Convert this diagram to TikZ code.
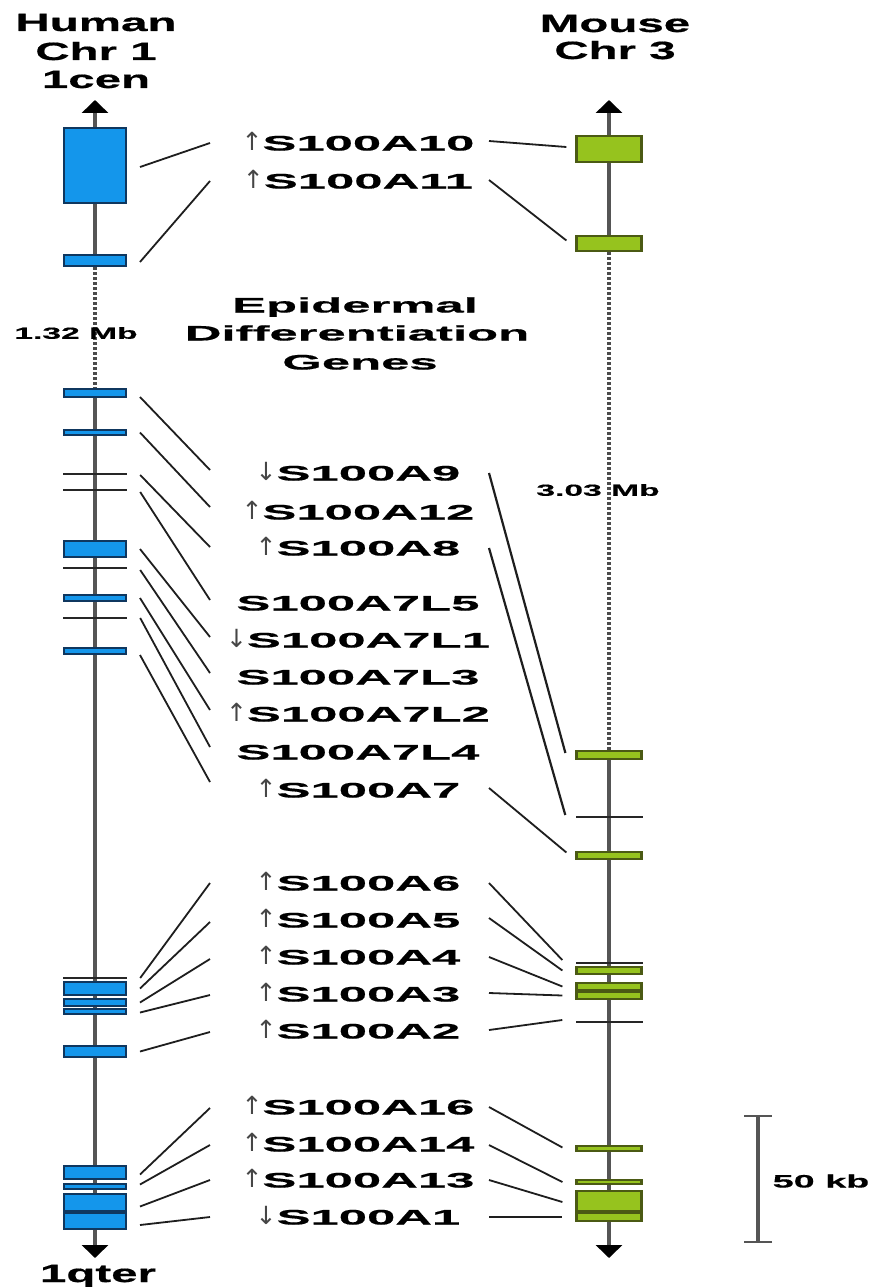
\documentclass[tikz,border=0pt]{standalone}
\usepackage{fontspec}
\setmainfont{Liberation Sans}
\newfontfamily\genefont[FakeStretch=2.42, BoldFeatures={FakeBold=0.6}]{Liberation Sans}
\newfontfamily\titlefont[FakeStretch=1.9, BoldFeatures={FakeBold=0.6}]{Liberation Sans}
\newfontfamily\smallfont[FakeStretch=2.1, BoldFeatures={FakeBold=0.5}]{Liberation Sans}
\newfontfamily\arrowfont{DejaVu Sans}
\usetikzlibrary{
  arrows.meta,
  calc,
  backgrounds
}
\definecolor{humanfill}{RGB}{20, 150, 235}
\definecolor{humanedge}{RGB}{15, 55, 95}
\definecolor{mousefill}{RGB}{150, 195, 30}
\definecolor{mouseedge}{RGB}{75, 90, 20}
\definecolor{chromcolor}{RGB}{85, 85, 85}
\definecolor{linkcolor}{RGB}{30, 30, 30}
\definecolor{regcolor}{RGB}{70, 70, 70}
\newcommand{\upreg}{{\arrowfont\mdseries\fontsize{25}{25}\selectfont\color{regcolor}↑}}
\newcommand{\downreg}{{\arrowfont\mdseries\fontsize{25}{25}\selectfont\color{regcolor}↓}}
\tikzset{
genelabel/.style={
  font=\genefont\bfseries\fontsize{21}{25}\selectfont,
  inner sep=0pt,
  text height=15pt,
  text depth=0pt
},
titlelabel/.style={
  font=\titlefont\bfseries\fontsize{25}{30}\selectfont,
  inner sep=0pt,
  text height=18pt,
  text depth=0pt
},
sizelabel/.style={
  font=\smallfont\bfseries\fontsize{16}{20}\selectfont,
  inner sep=0pt,
  text height=11.5pt,
  text depth=0pt
},
hbox/.style={
  draw=humanedge,
  fill=humanfill,
  line width=2pt,
  minimum width=62pt,
  inner sep=0pt
},
mbox/.style={
  draw=mouseedge,
  fill=mousefill,
  line width=2.2pt,
  minimum width=65pt,
  inner sep=0pt
},
htick/.style={
  fill=black!85,
  minimum width=64pt,
  minimum height=2.5pt,
  inner sep=0pt
},
mtick/.style={
  fill=black!85,
  minimum width=67pt,
  minimum height=2.5pt,
  inner sep=0pt
},
chrom/.style={
  draw=chromcolor,
  line width=4.5pt
},
chromend/.style={
  chrom,
  -{Triangle[width=26pt,length=13pt,color=black]}
},
chromdot/.style={
  draw=black!70,
  line width=4pt,
  dash pattern=on 2.5pt off 2.5pt
},
link/.style={
  draw=linkcolor,
  line width=1.8pt
},
scalebar/.style={
  draw=chromcolor,
  line width=3.5pt,
  {Bar[width=28pt,line width=2pt]}-{Bar[width=28pt,line width=2pt]}
}
}

\begin{document}
\begin{tikzpicture}[x=1pt, y=-1pt]
  \useasboundingbox (0,0) rectangle (876,1287);

  % Titles
  \node[titlelabel] (humanname) at (96,22) {Human};
  \node[titlelabel] (humanchr) at (96,51) {Chr 1};
  \node[titlelabel] (humancen) at (96,79) {1cen};
  \node[titlelabel] (mousename) at (615,23) {Mouse};
  \node[titlelabel] (mousechr) at (615,50) {Chr 3};
  \node[titlelabel] (humanqter) at (98,1273) {1qter};

  % Chromosome ends
  \coordinate (htop) at (95,100);
  \coordinate (hbot) at (95,1258);
  \coordinate (mtop) at (609,100);
  \coordinate (mbot) at (609,1258);

  % Human genes
  \node[hbox, minimum height=75] (hA10) at (95,165.5) {};
  \node[hbox, minimum height=11] (hA11) at (95,260.5) {};
  \node[hbox, minimum height=8] (hA9) at (95,393) {};
  \node[hbox, minimum height=5] (hA12) at (95,432.5) {};
  \node[htick] (hA8) at (95,474) {};
  \node[htick] (hA7L5) at (95,490) {};
  \node[hbox, minimum height=16] (hA7L1) at (95,549) {};
  \node[htick] (hA7L3) at (95,568) {};
  \node[hbox, minimum height=6] (hA7L2) at (95,598) {};
  \node[htick] (hA7L4) at (95,618) {};
  \node[hbox, minimum height=6] (hA7) at (95,651) {};
  \node[htick] (hA6) at (95,978) {};
  \node[hbox, minimum height=13] (hA5) at (95,988.5) {};
  \node[hbox, minimum height=7] (hA4) at (95,1002.5) {};
  \node[hbox, minimum height=5] (hA3) at (95,1011.5) {};
  \node[hbox, minimum height=11] (hA2) at (95,1051.5) {};
  \node[hbox, minimum height=13] (hA16) at (95,1172.5) {};
  \node[hbox, minimum height=5] (hA14) at (95,1186.5) {};
  \node[hbox, minimum height=17] (hA13) at (95,1202.5) {};
  \node[hbox, minimum height=16] (hA1) at (95,1221) {};

  % Mouse genes
  \node[mbox, minimum height=26] (mA10) at (609,149) {};
  \node[mbox, minimum height=15] (mA11) at (609,243.5) {};
  \node[mbox, minimum height=8] (mA9) at (609,755) {};
  \node[mtick] (mA8) at (609,817) {};
  \node[mbox, minimum height=7] (mA7) at (609,855.5) {};
  \node[mtick] (mA6) at (609,963) {};
  \node[mbox, minimum height=7] (mA5) at (609,970.5) {};
  \node[mbox, minimum height=7] (mA4) at (609,986.5) {};
  \node[mbox, minimum height=7] (mA3) at (609,995.5) {};
  \node[mtick] (mA2) at (609,1022) {};
  \node[mbox, minimum height=5] (mA16) at (609,1148.5) {};
  \node[mbox, minimum height=4] (mA14) at (609,1182) {};
  \node[mbox, minimum height=20] (mA13) at (609,1201) {};
  \node[mbox, minimum height=8] (mA1) at (609,1217) {};

  % Chromosome lines
  \begin{scope}[on background layer]
    \fill[white] (0,0) rectangle (876,1287);
    \draw[chromend] (hA11.center) -- (htop);
    \draw[chromdot] (hA11.south) -- (hA9.north);
    \draw[chromend] (hA9.center) -- (hbot);
    \draw[chromend] (mA11.center) -- (mtop);
    \draw[chromdot] (mA11.south) -- (mA9.north);
    \draw[chromend] (mA9.center) -- (mbot);
  \end{scope}

  % Gene names
  \node[genelabel] (lA10) at (358,143) {\upreg S100A10};
  \node[genelabel] (lA11) at (358,181) {\upreg S100A11};
  \node[genelabel] (lA9) at (358,473) {\downreg S100A9};
  \node[genelabel] (lA12) at (358,512) {\upreg S100A12};
  \node[genelabel] (lA8) at (358,548) {\upreg S100A8};
  \node[genelabel] (lA7L5) at (358,603) {S100A7L5};
  \node[genelabel] (lA7L1) at (358,640) {\downreg S100A7L1};
  \node[genelabel] (lA7L3) at (358,677) {S100A7L3};
  \node[genelabel] (lA7L2) at (358,714) {\upreg S100A7L2};
  \node[genelabel] (lA7L4) at (358,752) {S100A7L4};
  \node[genelabel] (lA7) at (358,790) {\upreg S100A7};
  \node[genelabel] (lA6) at (358,883) {\upreg S100A6};
  \node[genelabel] (lA5) at (358,920) {\upreg S100A5};
  \node[genelabel] (lA4) at (358,957) {\upreg S100A4};
  \node[genelabel] (lA3) at (358,994) {\upreg S100A3};
  \node[genelabel] (lA2) at (358,1031) {\upreg S100A2};
  \node[genelabel] (lA16) at (358,1107) {\upreg S100A16};
  \node[genelabel] (lA14) at (358,1144) {\upreg S100A14};
  \node[genelabel] (lA13) at (358,1180) {\upreg S100A13};
  \node[genelabel] (lA1) at (358,1217) {\downreg S100A1};

  % Gap labels
  \node[genelabel] (edgtop) at (355,305) {Epidermal};
  \node[genelabel] (edgmid) at (357,333) {Differentiation};
  \node[genelabel] (edgbot) at (360,362) {Genes};
  \node[sizelabel] (hgap) at (76,333) {1.32 Mb};
  \node[sizelabel] (mgap) at (598,490) {3.03 Mb};

  % Human side links
  \draw[link] ($(hA10.east)+(13,1.5)$) -- ($(lA10.center)+(-148,0)$);
  \draw[link] ($(hA11.east)+(13,1.5)$) -- ($(lA11.center)+(-148,0)$);
  \draw[link] ($(hA9.east)+(13,4)$) -- ($(lA9.center)+(-148,-3)$);
  \draw[link] ($(hA12.east)+(13,0)$) -- ($(lA12.center)+(-148,-5)$);
  \draw[link] ($(hA8.east)+(13,1)$) -- ($(lA8.center)+(-148,-1)$);
  \draw[link] ($(hA7L5.east)+(13,2)$) -- ($(lA7L5.center)+(-148,-3)$);
  \draw[link] ($(hA7L1.east)+(13,0)$) -- ($(lA7L1.center)+(-148,-3)$);
  \draw[link] ($(hA7L3.east)+(13,2)$) -- ($(lA7L3.center)+(-148,-4)$);
  \draw[link] ($(hA7L2.east)+(13,0)$) -- ($(lA7L2.center)+(-148,-4)$);
  \draw[link] ($(hA7L4.east)+(13,0)$) -- ($(lA7L4.center)+(-148,-5)$);
  \draw[link] ($(hA7.east)+(13,4)$) -- ($(lA7.center)+(-148,-8)$);
  \draw[link] ($(hA6.east)+(13,0)$) -- ($(lA6.center)+(-148,0)$);
  \draw[link] ($(hA5.east)+(13,0)$) -- ($(lA5.center)+(-148,2)$);
  \draw[link] ($(hA4.east)+(13,0)$) -- ($(lA4.center)+(-148,2)$);
  \draw[link] ($(hA3.east)+(13,1)$) -- ($(lA3.center)+(-148,1)$);
  \draw[link] ($(hA2.east)+(13,0)$) -- ($(lA2.center)+(-148,1)$);
  \draw[link] ($(hA16.east)+(13,2)$) -- ($(lA16.center)+(-148,1)$);
  \draw[link] ($(hA14.east)+(13,-2)$) -- ($(lA14.center)+(-148,1)$);
  \draw[link] ($(hA13.east)+(13,4)$) -- ($(lA13.center)+(-148,0)$);
  \draw[link] ($(hA1.east)+(13,4)$) -- ($(lA1.center)+(-148,0)$);

  % Mouse side links
  \draw[link] ($(lA10.center)+(131,-2)$) -- ($(mA10.west)+(-9,-2)$);
  \draw[link] ($(lA11.center)+(131,-1)$) -- ($(mA11.west)+(-9,-3)$);
  \draw[link, line width=2.2pt] ($(lA9.center)+(131,0)$) -- ($(mA9.west)+(-10,-2)$);
  \draw[link, line width=2.2pt] ($(lA8.center)+(131,0)$) -- ($(mA8.west)+(-10,-2)$);
  \draw[link] ($(lA7.center)+(131,-2)$) -- ($(mA7.west)+(-9,-3)$);
  \draw[link] ($(lA6.center)+(131,0)$) -- ($(mA6.west)+(-13,-3)$);
  \draw[link] ($(lA5.center)+(131,-2)$) -- ($(mA5.west)+(-13,0)$);
  \draw[link] ($(lA4.center)+(131,0)$) -- ($(mA4.west)+(-13,0)$);
  \draw[link] ($(lA3.center)+(131,-1)$) -- ($(mA3.west)+(-13,0)$);
  \draw[link] ($(lA2.center)+(131,-1)$) -- ($(mA2.west)+(-13,-2)$);
  \draw[link] ($(lA16.center)+(131,0)$) -- ($(mA16.west)+(-13,-1)$);
  \draw[link] ($(lA14.center)+(131,1)$) -- ($(mA14.west)+(-13,0)$);
  \draw[link] ($(lA13.center)+(131,0)$) -- ($(mA13.west)+(-13,1)$);
  \draw[link] ($(lA1.center)+(131,0)$) -- ($(mA1.west)+(-13,0)$);

  % Scale bar
  \coordinate (sbtop) at (758,1115);
  \coordinate (sbbot) at (758,1243);
  \draw[scalebar] (sbtop) -- (sbbot);
  \node[sizelabel, font=\smallfont\bfseries\fontsize{18}{22}\selectfont, text height=13pt] (sblabel) at (821,1181) {50 kb};
\end{tikzpicture}
\end{document}
